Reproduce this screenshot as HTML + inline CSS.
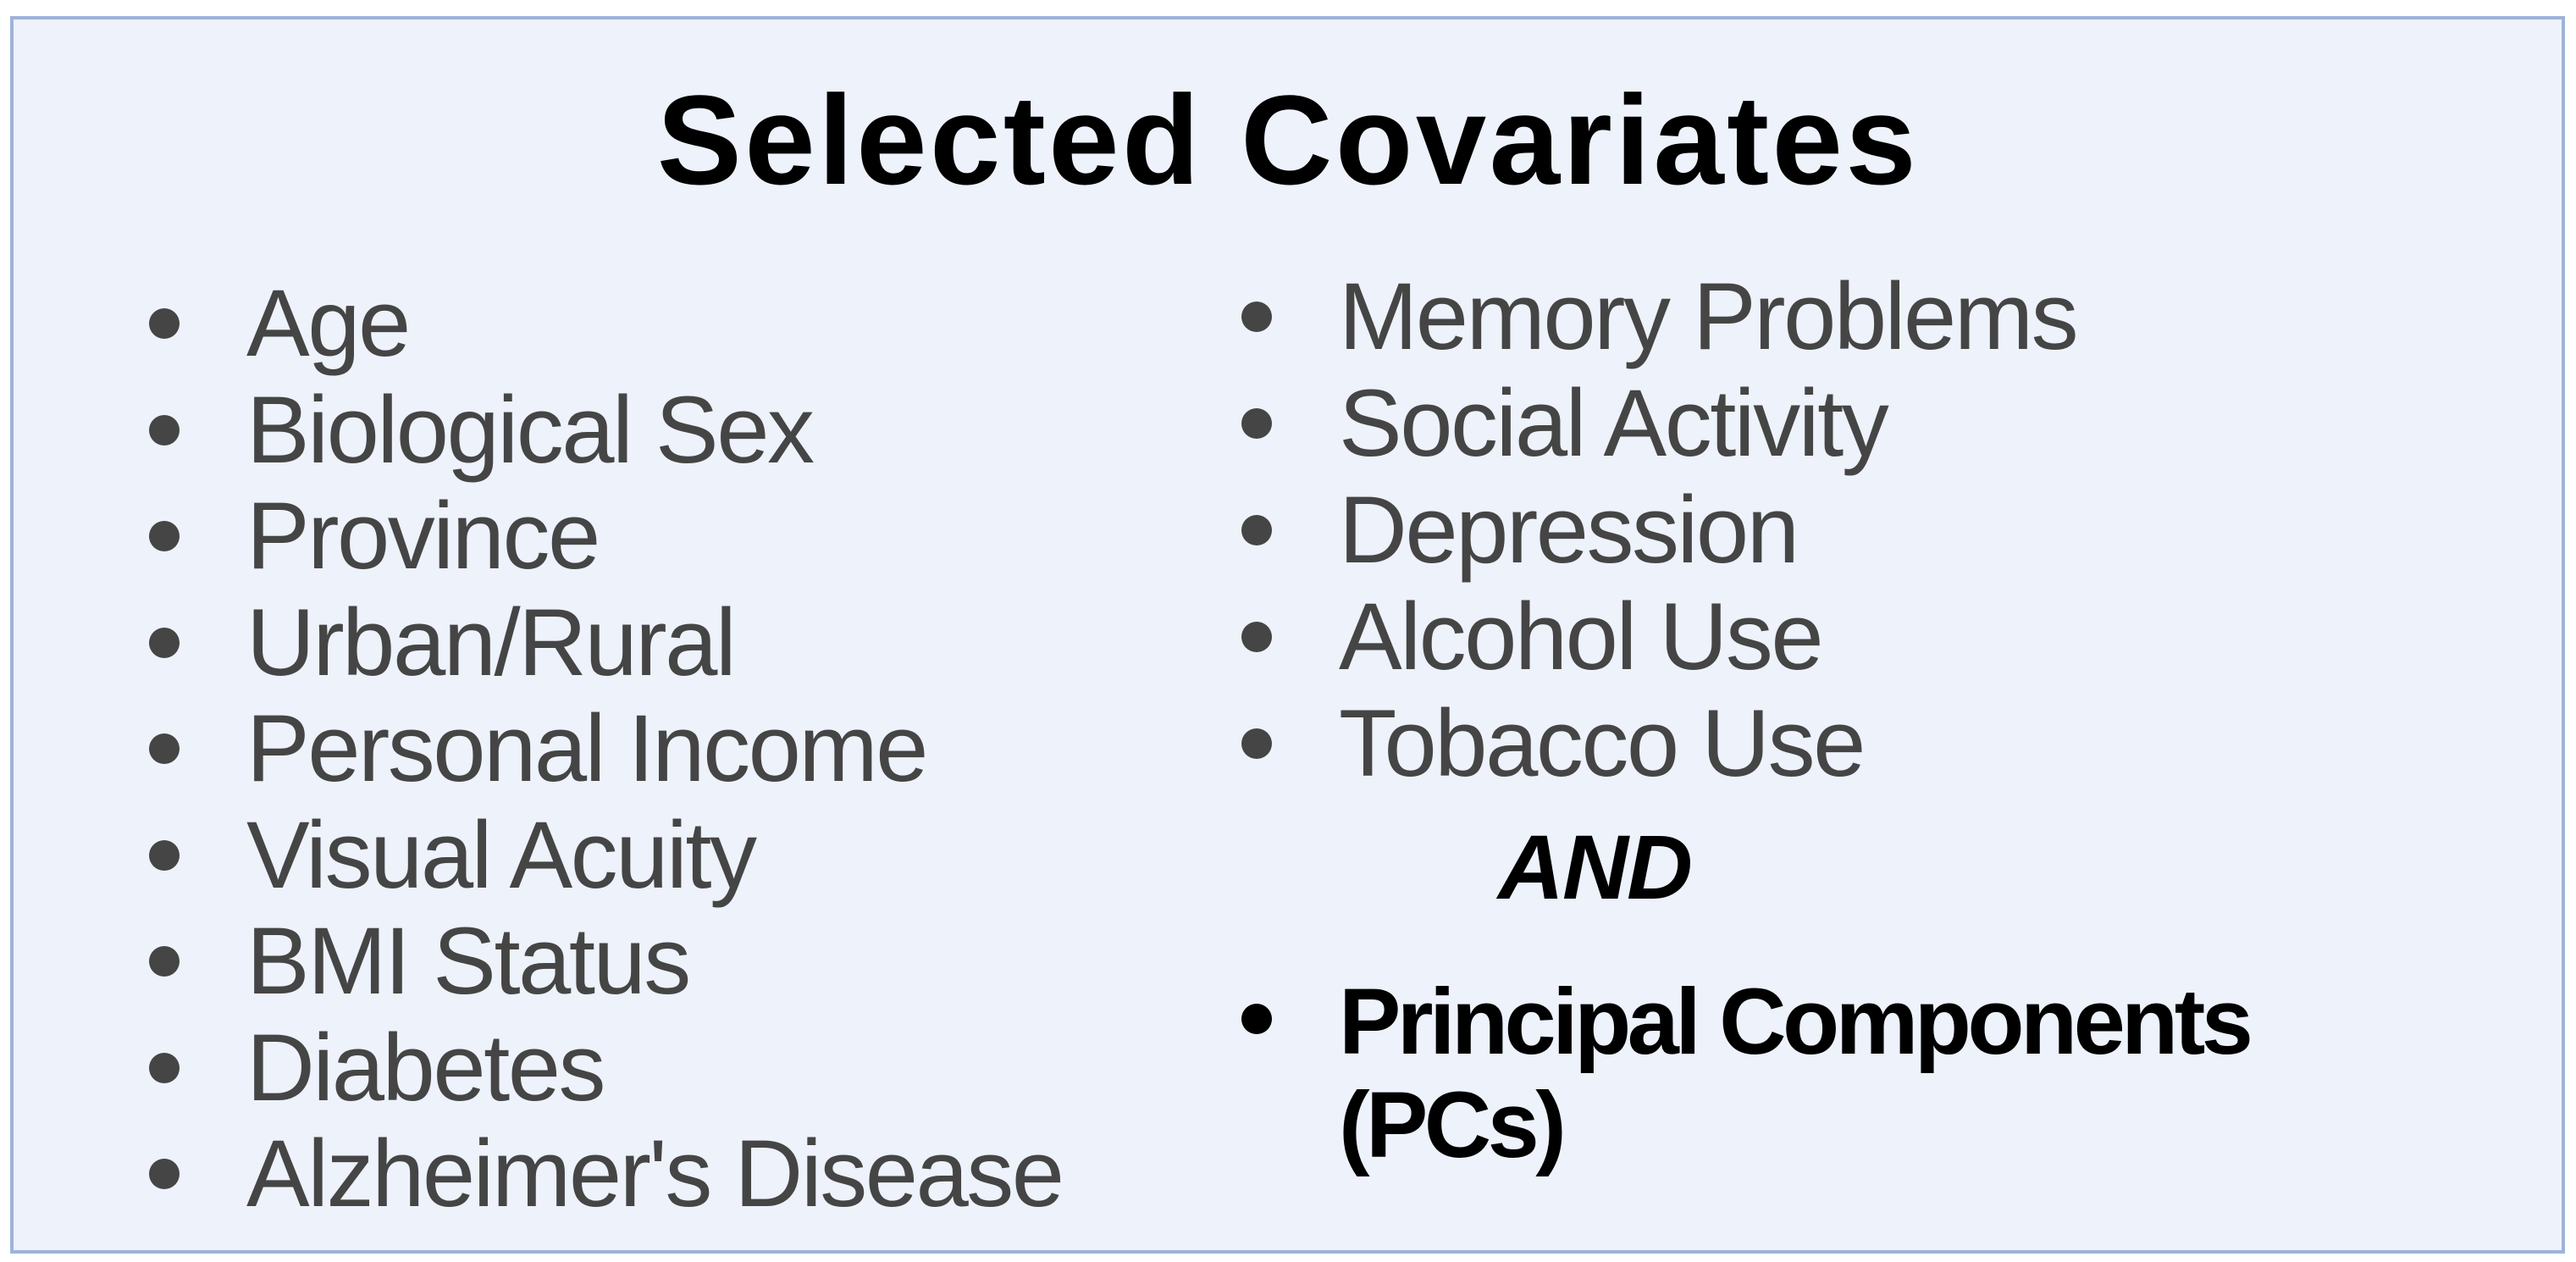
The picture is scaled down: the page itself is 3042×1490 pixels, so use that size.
<!DOCTYPE html>
<html><head><meta charset="utf-8"><style>
html,body{margin:0;padding:0;width:3042px;height:1490px;background:#fff;overflow:hidden}
#box{position:absolute;left:12px;top:19px;width:3009px;height:1453px;border:4px solid #9fb3d8;background:#edf2fb}
.t{position:absolute;font-family:"Liberation Sans",sans-serif;line-height:1;white-space:nowrap}
.g{font-size:112px;color:#454545;letter-spacing:-2.5px}
.b{position:absolute;width:36px;height:36px;border-radius:50%;background:#454545}
</style></head><body>
<div id="box"></div>
<div class="t" style="left:0;width:3042px;text-align:center;top:90px;font-size:150px;font-weight:bold;color:#000;letter-spacing:3.4px">Selected Covariates</div>
<div id="lists"></div>
<div class="t" style="left:1769px;top:970px;font-size:108px;font-weight:bold;font-style:italic;color:#000;letter-spacing:-2px">AND</div>
<div class="b" style="left:1466px;top:1185px;background:#000"></div>
<div class="t" style="left:1581px;top:1146px;font-size:110px;font-weight:bold;color:#000;line-height:122px;letter-spacing:-4.6px">Principal Components<br>(PCs)</div>
<script>
const left=["Age","Biological Sex","Province","Urban/Rural","Personal Income","Visual Acuity","BMI Status","Diabetes","Alzheimer's Disease"];
const right=["Memory Problems","Social Activity","Depression","Alcohol Use","Tobacco Use"];
const c=document.getElementById('lists');
function add(items,bx,tx,y0,step){
items.forEach((s,i)=>{
const cy=y0+i*step;
const b=document.createElement('div');b.className='b';


b.style.left=(bx-18)+'px';b.style.top=(cy-18)+'px';c.appendChild(b);
const t=document.createElement('div');t.className='t g';


t.textContent=s;t.style.left=tx+'px';t.style.top=(cy-56)+'px';c.appendChild(t);
});}
add(left,194,291,382,125.5);
add(right,1484,1581,374,126);
</script>
</body></html>
